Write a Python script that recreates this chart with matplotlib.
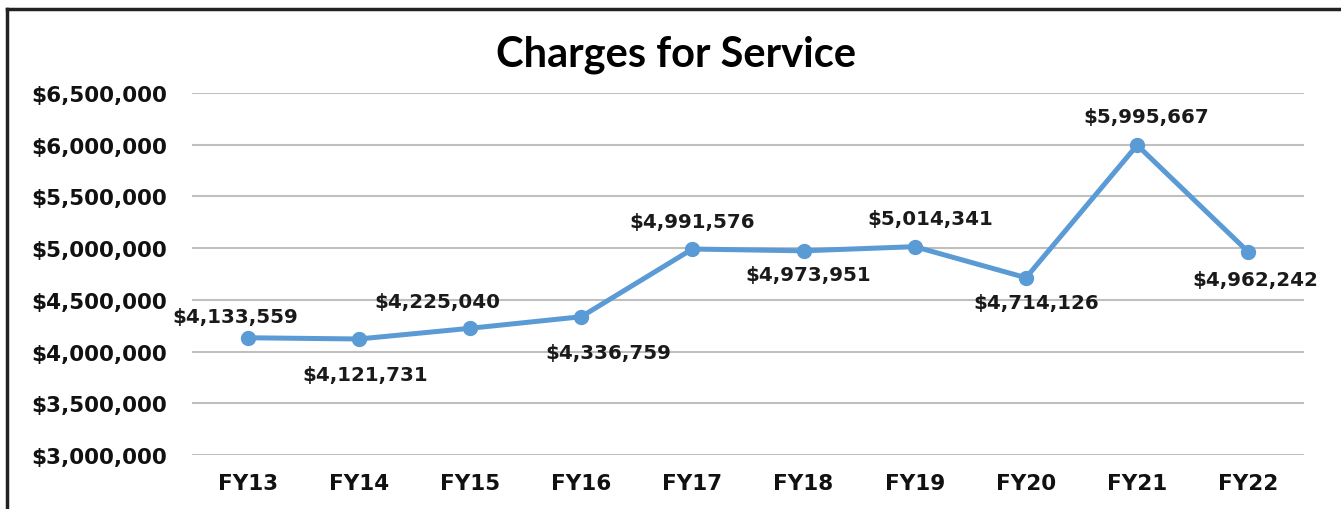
import matplotlib.pyplot as plt
from matplotlib.ticker import FuncFormatter
from matplotlib.lines import Line2D

years = ["FY13", "FY14", "FY15", "FY16", "FY17", "FY18", "FY19", "FY20", "FY21", "FY22"]
charges = [4133559, 4121731, 4225040, 4336759, 4991576, 4973951, 5014341, 4714126, 5995667, 4962242]

# label nudges in pixels (dx, dy), as placed in the original chart
label_nudge = [(-12, 21), (6, -36), (-33, 27), (27, -36), (0, 28),
               (5, -24), (15, 28), (10, -25), (9, 29), (7, -27)]

fig = plt.figure(figsize=(13.41, 5.10), dpi=100)
ax = fig.add_axes([192 / 1341, 1 - 456 / 510, (1304 - 192) / 1341, (456 - 94) / 510])

x = list(range(len(years)))
ax.plot(x, charges, color="#5B9BD5", lw=3.6, marker="o", ms=10, zorder=3)

for i, (v, (dx, dy)) in enumerate(zip(charges, label_nudge)):
    ax.annotate(f"${v:,.0f}", (i, v), xytext=(dx, dy),
                textcoords="offset pixels",
                ha="center", va="center", fontsize=14.3, fontweight="bold",
                family="DejaVu Sans", color="#1a1a1a", annotation_clip=False)

ax.set_xlim(-0.5, 9.5)
ax.set_ylim(3000000, 6500000)
ax.set_yticks(range(3000000, 6500001, 500000))
ax.yaxis.set_major_formatter(FuncFormatter(lambda v, p: f"${v:,.0f}"))
ax.set_xticks(x)
ax.set_xticklabels(years)
ax.grid(axis="y", color="#BFBFBF", lw=1.5)
ax.set_axisbelow(True)
for s in ax.spines.values():
    s.set_visible(False)
ax.tick_params(length=0, labelsize=15.5, colors="#111111")
ax.tick_params(axis="y", pad=18)
ax.tick_params(axis="x", pad=13)
for lab in ax.get_xticklabels() + ax.get_yticklabels():
    lab.set_fontweight("bold")
    lab.set_family("DejaVu Sans")

fig.text(676 / 1341, 1 - 55 / 510, "Charges for Service", ha="center", va="center",
         fontsize=30, fontweight="bold", family="Lato", color="#000000")

# chart border (left and top edges visible)
fig.add_artist(Line2D([7 / 1341, 7 / 1341], [0, 1 - 9.5 / 510], color="#222222", lw=2.5))
fig.add_artist(Line2D([7 / 1341, 1], [1 - 9.5 / 510, 1 - 9.5 / 510], color="#222222", lw=2.5))

fig.savefig("out.png", dpi=100)
